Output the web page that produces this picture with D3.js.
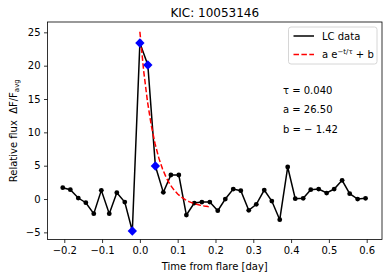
<!DOCTYPE html>
<html><head><meta charset="utf-8">
<script src="https://cdn.jsdelivr.net/npm/d3@7"></script>
<style>
body{margin:0;background:#fff;}
text{font-family:"DejaVu Sans",sans-serif;fill:#000;}
</style></head>
<body><svg id="c" width="389" height="278"></svg>
<script>
const times = [-0.204,-0.184,-0.163,-0.143,-0.122,-0.102,-0.081,-0.061,-0.040,-0.020,
  0.000,0.021,0.041,0.062,0.082,0.103,0.123,0.144,0.164,0.185,
  0.206,0.226,0.247,0.267,0.288,0.308,0.329,0.349,0.370,0.391,
  0.411,0.432,0.452,0.473,0.494,0.514,0.535,0.555,0.576,0.597];
const flux = [1.7,1.4,0.15,-0.55,-2.2,1.3,-2.2,0.95,-0.45,-4.8,
  23.4,20.1,4.95,1.0,3.6,3.6,-2.4,-0.6,-0.45,-0.45,
  -1.75,0.0,1.5,1.25,-1.7,-0.8,1.35,-0.3,-3.1,4.8,
  0.05,0.1,1.4,1.5,0.9,1.5,2.8,0.8,0.0,0.1];
const fitIdx = [9,10,11,12];
const tau = 0.040, aFit = 26.50, bFit = -1.42;
const fitTimes = [0.000,0.01,0.02,0.03,0.04,0.05,0.06,0.07,0.08,0.09,0.10,0.11,0.12,0.13,0.14,0.15,0.16,0.17,0.18,0.185];
const xTicks = [-0.2,-0.1,0.0,0.1,0.2,0.3,0.4,0.5,0.6];
const yTicks = [-5,0,5,10,15,20,25];
const title = "KIC: 10053146";

const svg = d3.select("#c");
const L=47.5, R=382, T=22, B=239.5;
const x = d3.scaleLinear().domain([-0.2444,0.6405]).range([L,R]);
const y = d3.scaleLinear().domain([-6.07,26.55]).range([B,T]);
const fmtMinus = s => s.replace("-","\u2212");

const xa = svg.append("g").attr("transform",`translate(0,${B})`)
  .call(d3.axisBottom(x).tickValues(xTicks).tickSize(3.5).tickPadding(3.5).tickFormat(d=>fmtMinus(d3.format(".1f")(d))));
const ya = svg.append("g").attr("transform",`translate(${L},0)`)
  .call(d3.axisLeft(y).tickValues(yTicks).tickSize(3.5).tickPadding(3.5).tickFormat(d=>fmtMinus(String(d))));
[xa,ya].forEach(g=>{g.select(".domain").remove();g.selectAll("text").attr("font-size",10).attr("font-family","DejaVu Sans").attr("fill","#000");g.selectAll("line").attr("stroke","#000").attr("stroke-width",0.8);});

const line = d3.line().x((d,i)=>x(times[i])).y(d=>y(d));
svg.append("path").datum(flux).attr("d",line).attr("fill","none").attr("stroke","#000").attr("stroke-width",1.5);
svg.append("g").selectAll("circle").data(flux).join("circle")
  .attr("cx",(d,i)=>x(times[i])).attr("cy",d=>y(d)).attr("r",2.4).attr("fill","#000");

const fitLine = d3.line().x(t=>x(t)).y(t=>y(aFit*Math.exp(-t/tau)+bFit));
svg.append("path").datum(fitTimes).attr("d",fitLine).attr("fill","none")
  .attr("stroke","#ff0000").attr("stroke-width",1.5).attr("stroke-dasharray","5.5,2.4");

svg.append("g").selectAll("path").data(fitIdx).join("path")
  .attr("d",d3.symbol().type(d3.symbolSquare).size(44))
  .attr("transform",i=>`translate(${x(times[i])},${y(flux[i])}) rotate(45)`)
  .attr("fill","#0000ff");

svg.append("rect").attr("x",L).attr("y",T).attr("width",R-L).attr("height",B-T)
  .attr("fill","none").attr("stroke","#000").attr("stroke-width",0.8);

svg.append("text").attr("x",(L+R)/2).attr("y",17).attr("text-anchor","middle").attr("font-size",12).text(title);
svg.append("text").attr("x",(L+R)/2).attr("y",270).attr("text-anchor","middle").attr("font-size",10).text("Time from flare [day]");
const yl = svg.append("text").attr("transform",`translate(17,${(T+B)/2}) rotate(-90)`).attr("text-anchor","middle").attr("font-size",10);
yl.append("tspan").text("Relative flux\u00a0\u00a0\u0394F/F");
yl.append("tspan").attr("font-size",7).attr("dy",2).text("avg");

const lg = svg.append("g");
lg.append("rect").attr("x",288.5).attr("y",27).attr("width",88.5).attr("height",37).attr("rx",2.5)
  .attr("fill","#fff").attr("fill-opacity",0.8).attr("stroke","#ccc").attr("stroke-width",0.8);
lg.append("line").attr("x1",293.5).attr("x2",314).attr("y1",36).attr("y2",36).attr("stroke","#000").attr("stroke-width",1.5);
lg.append("text").attr("x",322).attr("y",39.5).attr("font-size",10).text("LC data");
lg.append("line").attr("x1",293.5).attr("x2",314).attr("y1",54.5).attr("y2",54.5).attr("stroke","#ff0000").attr("stroke-width",1.5).attr("stroke-dasharray","5.5,2.4");
const lt = lg.append("text").attr("x",322).attr("y",58).attr("font-size",10);
lt.append("tspan").text("a e");
lt.append("tspan").attr("font-size",7).attr("dy",-4).text("\u2212t/\u03c4");
lt.append("tspan").attr("dy",4).text(" + b");

const ann = ["\u03c4 = 0.040","a = 26.50","b = \u2212 1.42"];
svg.append("g").selectAll("text").data(ann).join("text")
  .attr("x",283).attr("y",(d,i)=>93.5+i*19.5).attr("font-size",10).text(d=>d);
</script></body></html>
